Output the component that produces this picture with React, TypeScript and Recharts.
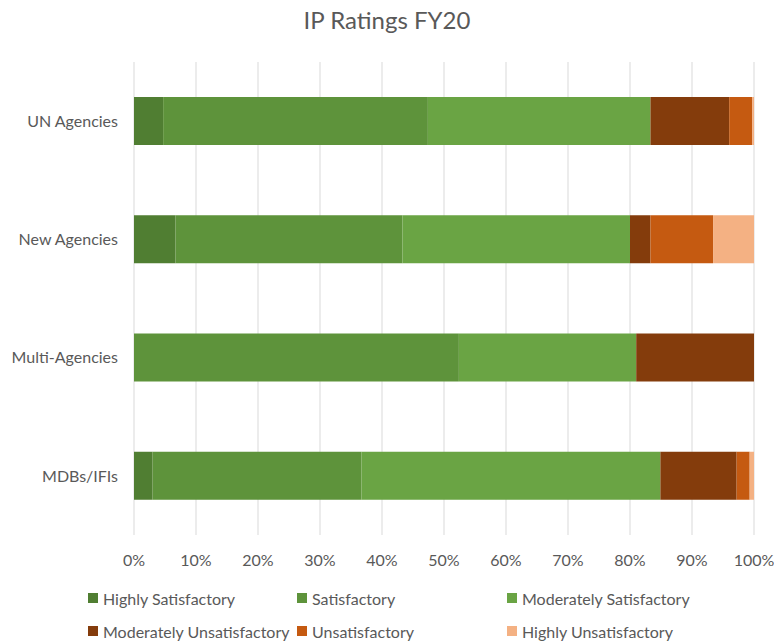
import React from 'react';
import { BarChart, Bar, XAxis, YAxis, CartesianGrid } from 'recharts';

// Categories top to bottom
const categories = ['UN Agencies', 'New Agencies', 'Multi-Agencies', 'MDBs/IFIs'];

// Share of each rating per category (%)
const highlySatisfactory = [4.7, 6.7, 0, 3.0];
const satisfactory = [42.7, 36.6, 52.4, 33.7];
const moderatelySatisfactory = [35.9, 36.7, 28.6, 48.2];
const moderatelyUnsatisfactory = [12.7, 3.3, 19.0, 12.3];
const unsatisfactory = [3.7, 10.1, 0, 2.1];
const highlyUnsatisfactory = [0.3, 6.6, 0, 0.7];

const xTicks = [0, 0.1, 0.2, 0.3, 0.4, 0.5, 0.6, 0.7, 0.8, 0.9, 1];

const SERIES = [
    { key: 'hs', name: 'Highly Satisfactory', values: highlySatisfactory, color: '#507e32' },
    { key: 's', name: 'Satisfactory', values: satisfactory, color: '#5e933b' },
    { key: 'ms', name: 'Moderately Satisfactory', values: moderatelySatisfactory, color: '#6aa444' },
    { key: 'mu', name: 'Moderately Unsatisfactory', values: moderatelyUnsatisfactory, color: '#843c0c' },
    { key: 'u', name: 'Unsatisfactory', values: unsatisfactory, color: '#c55a11' },
    { key: 'hu', name: 'Highly Unsatisfactory', values: highlyUnsatisfactory, color: '#f4b183' },
];

const chartData = categories.map((name, i) => {
    const row: Record<string, number | string> = { name };
    SERIES.forEach(s => { row[s.key] = s.values[i]; });
    return row;
});

// legend laid out in two rows of three, like the Excel original
const legendCols = [88, 297, 507];
const legendRows = [599, 632];

const FONT = 'Lato, "Open Sans", sans-serif';
const TEXT = '#595959';

export default function App() {
    return (
        <div style={{ position: 'absolute', left: 0, top: 0, width: 774, height: 644, background: '#fff', fontFamily: FONT }}>
            <div style={{ position: 'absolute', top: 5, left: 0, width: 774, textAlign: 'center', fontSize: 24, color: TEXT }}>
                IP Ratings FY20
            </div>

            <BarChart
                width={774}
                height={644}
                data={chartData}
                layout="vertical"
                stackOffset="expand"
                margin={{ top: 62, right: 20, left: 10, bottom: 79 }}
                barSize={48}
            >
                <CartesianGrid horizontal={false} stroke="#d9d9d9" />
                <XAxis
                    type="number"
                    domain={[0, 1]}
                    ticks={xTicks}
                    tickFormatter={(v) => `${Math.round(v * 100)}%`}
                    axisLine={false}
                    tickLine={false}
                    tickMargin={14}
                    height={30}
                    interval={0}
                    tick={{ fill: TEXT, fontSize: 16, fontFamily: FONT }}
                />
                <YAxis
                    type="category"
                    dataKey="name"
                    width={124}
                    axisLine={false}
                    tickLine={false}
                    tickMargin={10}
                    tick={{ fill: TEXT, fontSize: 16, fontFamily: FONT }}
                />
                {SERIES.map(s => (
                    <Bar key={s.key} dataKey={s.key} name={s.name} stackId="a" fill={s.color} isAnimationActive={false} />
                ))}
            </BarChart>

            {SERIES.map((s, i) => (
                <div
                    key={s.key}
                    style={{
                        position: 'absolute',
                        left: legendCols[i % 3],
                        top: legendRows[Math.floor(i / 3)] - 11,
                        height: 20,
                        display: 'flex',
                        alignItems: 'center',
                        fontSize: 16,
                        color: TEXT,
                        whiteSpace: 'nowrap',
                    }}
                >
                    <span style={{ display: 'inline-block', width: 10, height: 10, background: s.color, marginRight: 5 }} />
                    {s.name}
                </div>
            ))}
        </div>
    );
}
